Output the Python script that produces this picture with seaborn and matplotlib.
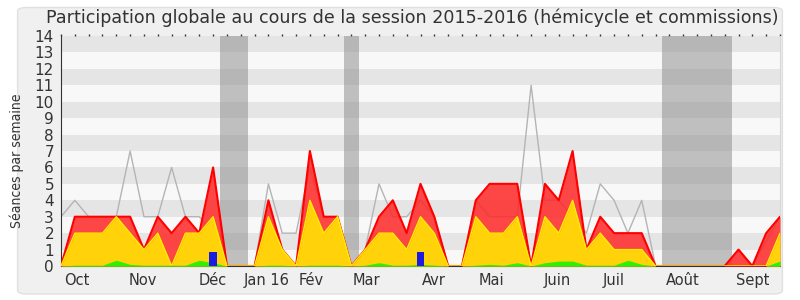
import numpy as np
import pandas as pd
import matplotlib
matplotlib.use("Agg")
import matplotlib.pyplot as plt
import seaborn as sns
from matplotlib.patches import FancyBboxPatch

# ---- data (weekly, 53 weeks) ----
weeks = list(range(53))
red_total = [0, 3, 3, 3, 3, 3, 1, 3, 2, 3, 2, 6, 0, 0, 0, 4, 1, 0, 7, 3,
             3, 0, 1, 3, 4, 2, 5, 3, 0, 0, 4, 5, 5, 5, 0, 5, 4, 7, 1, 3,
             2, 2, 2, 0, 0, 0, 0, 0, 0, 1, 0, 2, 3]
yellow = [0, 2, 2, 2, 3, 2, 1, 2, 0, 2, 2, 3, 0, 0, 0, 3, 1, 0, 4, 2,
          3, 0, 1, 2, 2, 1, 3, 2, 0, 0, 3, 2, 2, 3, 0, 3, 2, 4, 1, 2,
          1, 1, 1, 0, 0, 0, 0, 0, 0, 0, 0, 0, 2]
green = [0, 0.05, 0.05, 0.05, 0.35, 0.1, 0.05, 0.05, 0.05, 0.05, 0.35, 0.2, 0, 0, 0, 0.05, 0.05, 0, 0.05, 0.05,
         0.05, 0, 0.05, 0.2, 0.05, 0.05, 0.1, 0.05, 0, 0, 0.05, 0.1, 0.05, 0.2, 0, 0.2, 0.3, 0.3, 0.05, 0.05,
         0.05, 0.35, 0.1, 0, 0, 0, 0, 0, 0, 0, 0, 0, 0.3]
grey_line = [3, 4, 3, 3, 3, 7, 3, 3, 6, 3, 3, 2, 0, 0, 0, 5, 2, 2, 6, 3,
             3, 0, 1, 5, 3, 3, 4, 3, 0, 0, 4, 3, 3, 3, 11, 4, 4, 3, 2, 5,
             4, 2, 4, 0, 0, 0, 0, 0, 0, 0, 0, 1.5, 3]
blue_weeks = [11, 26]
blue_vals = [0.87, 0.87]
vacations = [(11.5, 13.5), (20.46, 21.55), (43.45, 48.5)]
month_labels = ["Oct", "Nov", "Déc", "Jan 16", "Fév", "Mar", "Avr", "Mai", "Juin", "Juil", "Août", "Sept"]
month_pos = [1.13, 5.95, 11.0, 14.9, 18.1, 22.1, 26.93, 31.1, 35.9, 40.0, 45.0, 50.0]

df = pd.DataFrame({"week": weeks, "red": red_total, "yellow": yellow,
                   "green": green, "grey": grey_line})

sns.set_style("white")
plt.rcParams["font.family"] = ["DejaVu Sans"]

fig = plt.figure(figsize=(8, 3), dpi=100)
fig.patch.set_facecolor("white")
bg = FancyBboxPatch((0.022, 0.02), 0.956, 0.955, boxstyle="round,pad=0,rounding_size=0.012",
                    transform=fig.transFigure, facecolor="#f0f0f0", edgecolor="#e0e0e0", lw=1, zorder=-10)
fig.patches.append(bg)

ax = fig.add_axes([0.07625, 0.1133, 0.89875, 0.7667])
ax.set_facecolor("#f8f8f8")
ax.set_xlim(0, 52)
ax.set_ylim(0, 14)

# stripes
for k in range(1, 14, 2):
    ax.axhspan(k, k + 1, color="#e5e5e5", lw=0, zorder=0)
# vacations
for a, b in vacations:
    ax.axvspan(a, b, color="#888888", alpha=0.5, lw=0, zorder=1)

sns.lineplot(data=df, x="week", y="grey", ax=ax, color="#b4b4b4", lw=1, zorder=2)
ax.fill_between(df["week"], 0, df["red"], color="#ff2828", alpha=0.85, lw=0, zorder=3)
sns.lineplot(data=df, x="week", y="red", ax=ax, color="#ff0000", lw=1.5, zorder=4)
ax.fill_between(df["week"], 0, df["yellow"], color="#ffd20a", lw=0, zorder=5)
sns.lineplot(data=df, x="week", y="yellow", ax=ax, color="#ffee00", lw=1, zorder=6)
ax.fill_between(df["week"], 0, df["green"], color="#33ee00", lw=0, zorder=7)
ax.bar(blue_weeks, blue_vals, width=0.55, color="#1c1ce0", edgecolor="none", lw=0, zorder=8)

ax.set_xlabel("")
ax.set_ylabel("Séances par semaine", fontsize=10, fontstretch="condensed", color="#333333")
ax.yaxis.set_label_coords(-0.052, 0.457)
ax.set_yticks(range(15))
ax.set_yticklabels([str(v) for v in range(15)], fontsize=11, color="#333333")
ax.set_xticks(range(53))
ax.set_xticklabels([""] * 53)
ax.tick_params(axis="x", which="major", length=5, width=1, color="#333333", direction="out")
ax.tick_params(axis="y", length=4, width=1, color="#333333", pad=1)
for lab, pos in zip(month_labels, month_pos):
    ax.text(pos, -0.45, lab, transform=ax.transData,
            ha="center", va="top", fontsize=10.5, color="#333333", clip_on=False)
# top dotted ticks
ax.tick_params(axis="x", which="major", top=True)
for t in ax.xaxis.get_major_ticks():
    t.tick2line.set_markersize(1.5)
ax.spines["top"].set_visible(False)
ax.spines["left"].set_color("#333333")
ax.spines["bottom"].set_color("#333333")
ax.spines["right"].set_visible(True)
ax.spines["right"].set_color("#d8d8d8")

fig.text(0.5156, 0.94, "Participation globale au cours de la session 2015-2016 (hémicycle et commissions)",
         ha="center", va="center", fontsize=12.6, color="#333333")

fig.savefig("out.png", dpi=100, facecolor=fig.get_facecolor())
